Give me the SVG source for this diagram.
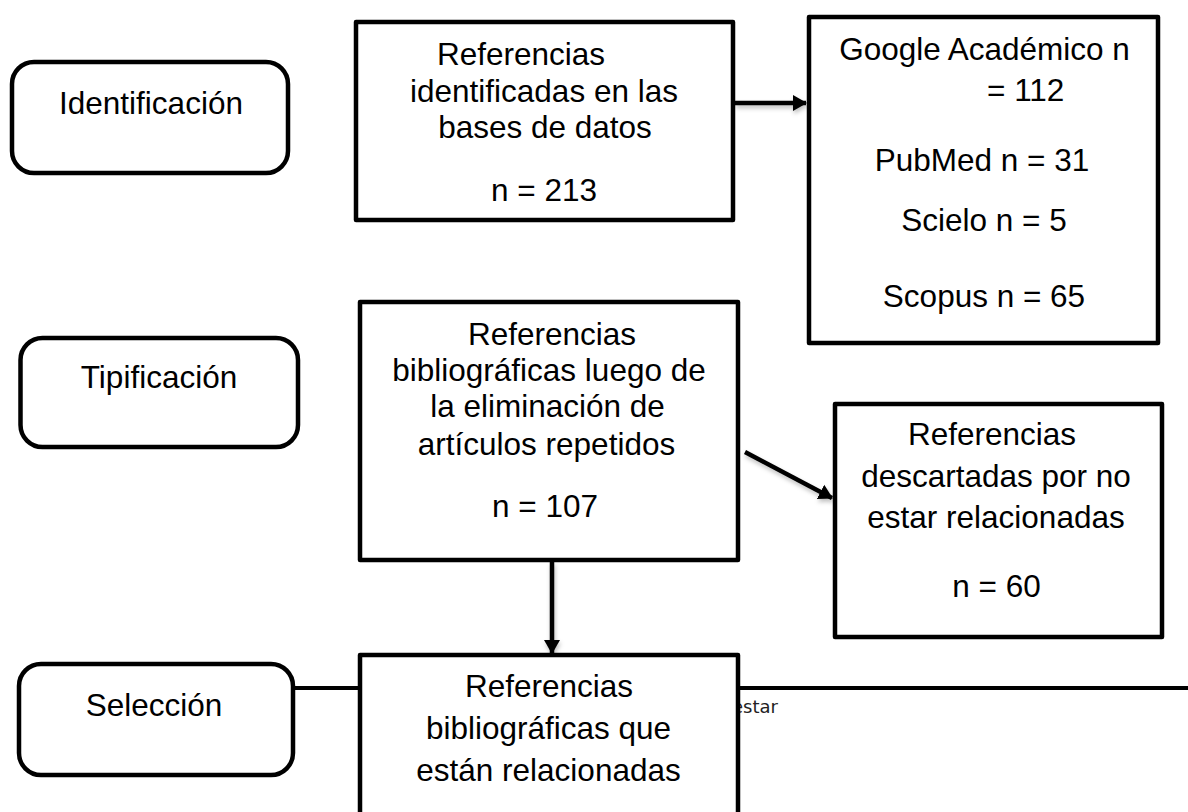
<svg xmlns="http://www.w3.org/2000/svg" width="1188" height="812" viewBox="0 0 1188 812">
<style>
  .box { fill: #ffffff; stroke: #000000; stroke-width: 4.5; stroke-linejoin: round; }
  .stage { fill: #ffffff; stroke: #000000; stroke-width: 4.5; }
  .t { font-family: "Liberation Sans", Arial, sans-serif; font-size: 31.5px; fill: #000000; text-anchor: middle; }
  .ts { text-anchor: start; }
  .conn { stroke: #000000; stroke-width: 4.5; fill: none; }
  .rule { stroke: #000000; stroke-width: 4; fill: none; }
  .hdr { font-family: "DejaVu Sans", sans-serif; font-size: 18px; fill: #222222; }
</style>
<defs>
  <marker id="arrow" markerUnits="userSpaceOnUse" markerWidth="16" markerHeight="18" refX="13" refY="8" orient="auto" viewBox="0 0 16 16">
    <path d="M0,0 L14,8 L0,16 Z" fill="#000000"/>
  </marker>
  <filter id="shadow" x="-20%" y="-50%" width="140%" height="200%">
    <feDropShadow dx="1" dy="3" stdDeviation="2" flood-color="#000000" flood-opacity="0.25"/>
  </filter>
</defs>

<g id="page-rule">
  <line class="rule" x1="293" y1="688" x2="362" y2="688"/>
  <line class="rule" x1="736" y1="688" x2="1188" y2="688"/>
  <text class="hdr" x="732" y="713">estar</text>
</g>

<g id="connectors" filter="url(#shadow)">
  <line class="conn" x1="735" y1="103" x2="806" y2="103" marker-end="url(#arrow)"/>
  <line class="conn" x1="745" y1="452" x2="832" y2="498" marker-end="url(#arrow)"/>
  <line class="conn" x1="552" y1="562" x2="552" y2="653" marker-end="url(#arrow)"/>
</g>

<g id="stage-identificacion">
  <rect class="stage" x="12" y="62" width="276" height="111" rx="22"/>
  <text class="t" x="151" y="114">Identificación</text>
</g>
<g id="stage-tipificacion">
  <rect class="stage" x="20.5" y="338" width="277.5" height="109" rx="22"/>
  <text class="t" x="159" y="388">Tipificación</text>
</g>
<g id="stage-seleccion">
  <rect class="stage" x="19" y="664" width="274" height="111" rx="22"/>
  <text class="t" x="154" y="716">Selección</text>
</g>

<g id="node-identificadas">
  <rect class="box" x="356" y="22" width="377" height="198"/>
  <text class="t" x="521" y="65">Referencias</text>
  <text class="t" x="544" y="102">identificadas en las</text>
  <text class="t" x="545" y="138">bases de datos</text>
  <text class="t" x="544" y="201">n = 213</text>
</g>

<g id="node-bases">
  <rect class="box" x="809" y="17" width="349" height="326"/>
  <text class="t" x="984.5" y="60">Google Académico n</text>
  <text class="t ts" x="987" y="101">= 112</text>
  <text class="t" x="982" y="171">PubMed n = 31</text>
  <text class="t" x="984" y="231">Scielo n = 5</text>
  <text class="t" x="984" y="307">Scopus n = 65</text>
</g>

<g id="node-sin-repetidos">
  <rect class="box" x="360" y="302" width="378" height="258"/>
  <text class="t" x="552" y="345">Referencias</text>
  <text class="t" x="549" y="381">bibliográficas luego de</text>
  <text class="t" x="547.5" y="417">la eliminación de</text>
  <text class="t" x="546.5" y="455">artículos repetidos</text>
  <text class="t" x="545" y="517">n = 107</text>
</g>

<g id="node-descartadas">
  <rect class="box" x="835" y="404" width="327" height="233"/>
  <text class="t" x="992" y="445">Referencias</text>
  <text class="t" x="996" y="487">descartadas por no</text>
  <text class="t" x="996" y="528">estar relacionadas</text>
  <text class="t" x="996.5" y="597">n = 60</text>
</g>

<g id="node-relacionadas">
  <rect class="box" x="360" y="655" width="378" height="200"/>
  <text class="t" x="549" y="697">Referencias</text>
  <text class="t" x="548.5" y="739">bibliográficas que</text>
  <text class="t" x="548.5" y="781">están relacionadas</text>
</g>
</svg>
